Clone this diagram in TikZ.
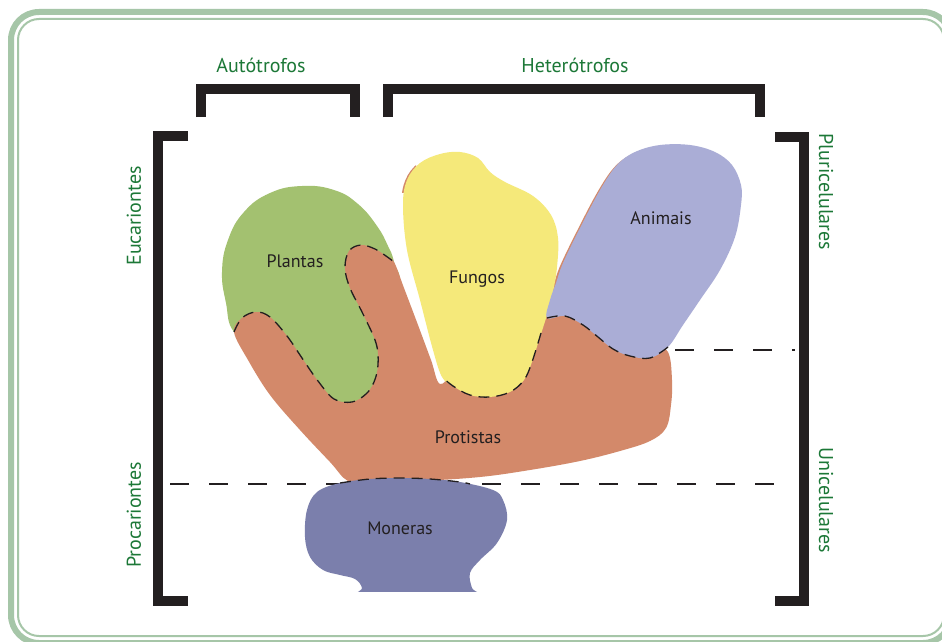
\documentclass[tikz,border=0pt]{standalone}
\usepackage{fontspec}
\setmainfont{PT Sans}
\definecolor{frameG}{RGB}{166,198,168}
\definecolor{txtG}{RGB}{28,120,55}
\definecolor{ink}{RGB}{35,31,32}
\definecolor{plantG}{RGB}{163,193,112}
\definecolor{protO}{RGB}{211,137,106}
\definecolor{fungY}{RGB}{245,233,122}
\definecolor{animL}{RGB}{170,173,214}
\definecolor{monL}{RGB}{123,127,172}
\tikzset{
  bracket/.style={draw=ink,line width=10pt,line join=miter,line cap=butt},
  grouplabel/.style={text=txtG,font=\fontsize{20}{22}\selectfont,inner sep=0pt},
  blobLabel/.style={text=ink,font=\fontsize{18}{20}\selectfont,inner sep=0pt},
  edgedash/.style={draw=ink,line width=1.3pt,dash pattern=on 11pt off 7pt},
  levelline/.style={draw=ink,line width=1.4pt,dash pattern=on 19pt off 20pt},
  blob/.style={smooth cycle,tension=0.6}
}
\begin{document}
\begin{tikzpicture}[x=1pt,y=-1pt]
\useasboundingbox (0,0) rectangle (942,642);
\clip (0,0) rectangle (942,642);
\fill[white] (0,0) rectangle (942,642);
% frame
\draw[frameG,line width=6pt,rounded corners=28pt] (11,12) rectangle (951,643);
\draw[frameG,line width=2pt,rounded corners=21pt] (18,19) rectangle (944,636);

% Plantas (green blob)
\fill[plantG] plot[smooth cycle,tension=0.75] coordinates {(234,332) (226,303) (222,272) (228,240) (244,212) (270,193) (302,186) (334,190) (358,204) (377,226) (388,246) (394,262) (400,295) (385,385) (355,410) (300,385) (262,352)};

% orange lobes under Animais and Fungos
\fill[protO,shift={(-2.5,2)}] plot[blob] coordinates {(547,318) (550,300) (556,283) (563,263) (580,228) (600,190) (617,165) (635,152) (660,145) (690,145) (715,152) (732,165) (741,185) (741,205) (735,237) (720,270) (700,300) (683,325) (668,347) (650,358) (630,356) (613,349) (598,337) (583,325) (565,316)};
\begin{scope}
\clip (395,165) rectangle (416,192);
\fill[protO,shift={(-1.6,0)}] plot[blob] coordinates {(442,377) (433,350) (420,300) (407,250) (403,205) (407,180) (420,163) (440,154) (460,152) (478,158) (490,172) (505,182) (533,196) (551,215) (558,238) (557,267) (553,292) (547,315) (539,340) (532,362) (524,380) (510,392) (490,397) (470,395) (453,386)};
\end{scope}

% Protistas (orange hand)
\fill[protO] plot[blob] coordinates {(234,332) (242,318) (256,312) (270,317) (287,336) (302,358) (318,381) (334,399) (352,402) (366,394) (374,382) (378,365) (376,343) (363,314) (350,288) (345,268) (349,251) (361,245) (375,249) (386,256) (394,262) (404,288) (418,325) (431,360) (440,384) (455,370) (490,340) (530,328) (547,318) (575,305) (630,330) (652,342) (668,352) (672,380) (671,405) (666,428) (650,441) (620,451) (580,461) (530,470) (480,477) (420,481) (370,482) (348,481) (330,462) (300,430) (270,395) (248,360)};
\draw[edgedash] plot[smooth,tension=0.6] coordinates {(234,332) (242,318) (256,312) (270,317) (287,336) (302,358) (318,381) (334,399) (352,402) (366,394) (374,382) (378,365) (376,343) (363,314) (350,288) (345,268) (349,251) (361,245) (375,249) (386,256) (394,262)};

% Fungos
\fill[fungY] plot[blob] coordinates {(442,377) (433,350) (420,300) (407,250) (403,205) (407,180) (420,163) (440,154) (460,152) (478,158) (490,172) (505,182) (533,196) (551,215) (558,238) (557,267) (553,292) (547,315) (539,340) (532,362) (524,380) (510,392) (490,397) (470,395) (453,386)};
\draw[edgedash] plot[smooth,tension=0.6] coordinates {(541,333) (532,362) (524,380) (510,392) (490,397) (470,395) (453,386) (442,377)};

% Animais
\fill[animL] plot[blob] coordinates {(547,318) (550,300) (556,283) (563,263) (580,228) (600,190) (617,165) (635,152) (660,145) (690,145) (715,152) (732,165) (741,185) (741,205) (735,237) (720,270) (700,300) (683,325) (668,347) (650,358) (630,356) (613,349) (598,337) (583,325) (565,316)};
\draw[edgedash] plot[smooth,tension=0.6] coordinates {(668,347) (650,358) (630,356) (613,349) (598,337) (583,325) (565,316) (547,318)};

% level lines
\draw[levelline] (170,484) coordinate (lvlA) -- (776,484) coordinate (lvlB);
\draw[levelline] (675,350) coordinate (lvlC) -- (795,350) coordinate (lvlD);

% Moneras
\begin{scope}
\clip (280,470) rectangle (530,591);
\fill[monL] plot[blob] coordinates {(317,492) (340,483) (370,479) (400,478) (430,479) (460,482) (493,490) (503,500) (507,520) (497,543) (480,560) (470,573) (472,588) (478,600) (360,600) (362,588) (355,579) (340,575) (323,570) (310,557) (305,537) (307,510)};
\end{scope}
\draw[edgedash] plot[smooth,tension=0.6] coordinates {(340,483) (370,479) (400,478) (430,479) (460,482) (470,484)};

% brackets
\draw[bracket] (201,117) -- (201,89) -- (355,89) -- (355,117);
\draw[bracket] (388,117) -- (388,89) -- (760,89) -- (760,117);
\draw[bracket] (188,136) -- (158,136) -- (158,601) -- (188,601);
\draw[bracket] (775,137) -- (804,137) -- (804,601) -- (775,601);

% labels
\node[grouplabel] (auto) at (261,65) {Autótrofos};
\node[grouplabel] (hetero) at (575,65) {Heterótrofos};
\node[grouplabel,rotate=-90] (pluri) at (826,192) {Pluricelulares};
\node[grouplabel,rotate=-90] (uni) at (826,500) {Unicelulares};
\node[grouplabel,rotate=90] (euca) at (134,216) {Eucariontes};
\node[grouplabel,rotate=90] (proca) at (134,515) {Procariontes};
\node[blobLabel] (plantas) at (295,261) {Plantas};
\node[blobLabel] (fungos) at (477,279) {Fungos};
\node[blobLabel] (animais) at (661,218) {Animais};
\node[blobLabel] (protistas) at (468,437) {Protistas};
\node[blobLabel] (moneras) at (400,528) {Moneras};
\end{tikzpicture}
\end{document}
